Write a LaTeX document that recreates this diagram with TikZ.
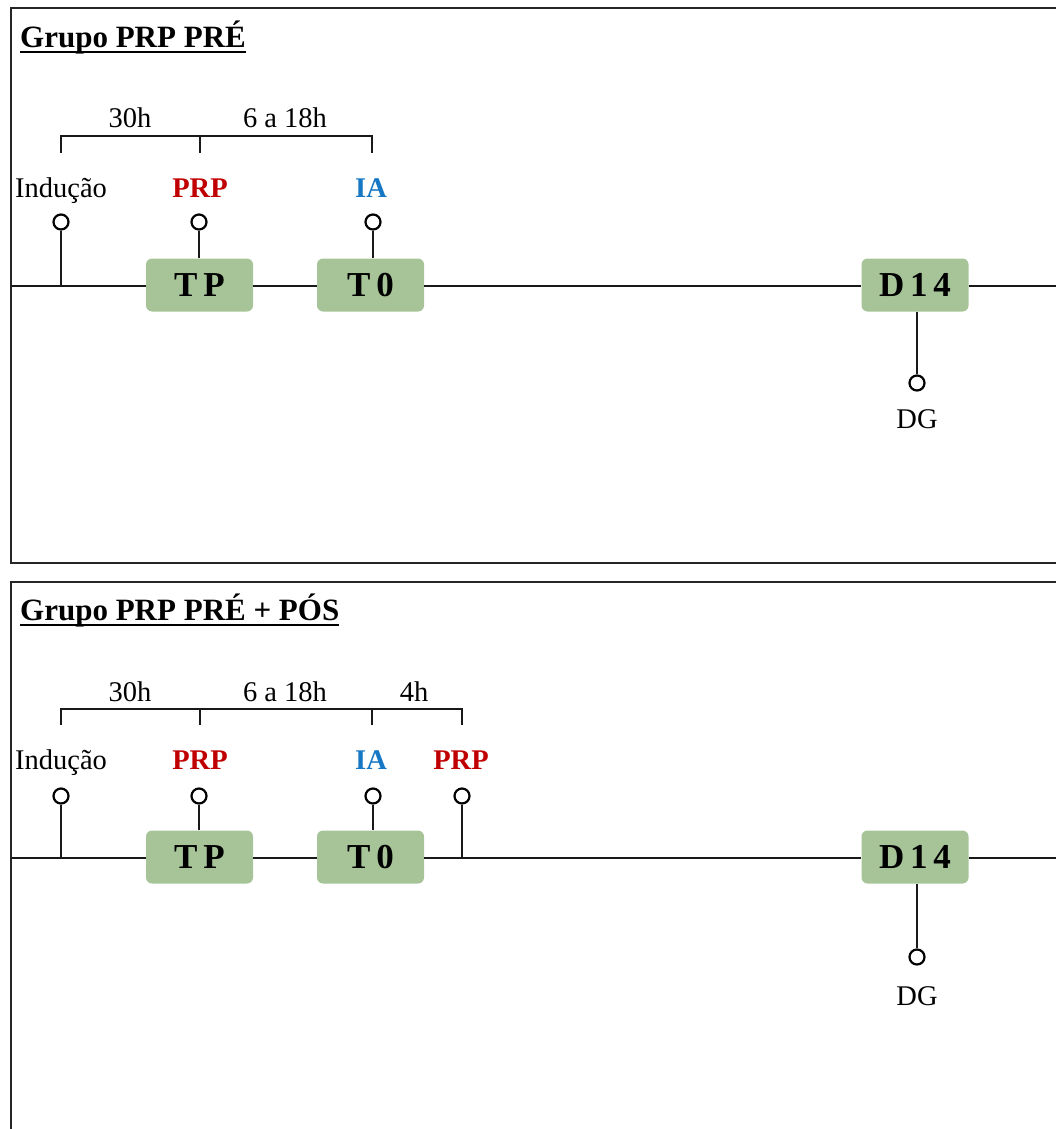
\documentclass[tikz,border=0pt]{standalone}
\usepackage{fontspec}
\setmainfont{Liberation Serif}
\definecolor{boxgreen}{HTML}{A6C498}
\definecolor{prpred}{HTML}{C00000}
\definecolor{iablue}{HTML}{1677C4}
\begin{document}
\begin{tikzpicture}[x=1pt,y=-1pt,
  line/.style={line width=2.2pt,black!90},
  frame/.style={line width=2.2pt,black!85},
  stagebox/.style={fill=boxgreen,rounded corners=6pt,minimum width=107pt,minimum height=53pt,inner sep=0pt,
    font=\fontsize{35}{38}\selectfont\bfseries},
  pin/.style={circle,draw,line width=2.2pt,minimum size=15pt,inner sep=0pt,fill=white},
  lbl/.style={anchor=base,inner sep=0pt,font=\fontsize{28.5}{32}\selectfont},
  redlbl/.style={lbl,text=prpred,font=\fontsize{28.5}{32}\selectfont\bfseries},
  bluelbl/.style={lbl,text=iablue,font=\fontsize{28.5}{32}\selectfont\bfseries},
  title/.style={anchor=base west,inner sep=0pt,font=\fontsize{31}{35}\selectfont\bfseries}]
\useasboundingbox (0,0) rectangle (1055,1129);

% ---------------- Panel 1 ----------------
\draw[frame] (1056,8) -- (11,8) -- (11,563) -- (1056,563);
\node[title] (ta) at (20,48) {Grupo PRP PRÉ};
\draw[line width=2pt] ([yshift=-4.5pt]ta.base west) -- ([yshift=-4.5pt]ta.base east);

\coordinate (La) at (11,286);
\coordinate (Ra) at (1056,286);
\node[stagebox] (TPa) at (199.5,285) {T\,P};
\node[stagebox] (T0a) at (370.5,285) {T\,0};
\node[stagebox] (D14a) at (915,285) {D\,1\,4};
\draw[line] (La) -- (La -| TPa.west);
\draw[line] (TPa.east |- La) -- (T0a.west |- La);
\draw[line] (T0a.east |- La) -- (D14a.west |- La);
\draw[line] (D14a.east |- La) -- (Ra);

\coordinate (bA1) at (61,153); \coordinate (bA2) at (200,153); \coordinate (bA3) at (372,153);
\draw[line] (bA1) -- (61,136) -- (372,136) -- (bA3);
\draw[line] (bA2) -- (200,136);
\node[lbl] (h30a) at (130,128) {30h};
\node[lbl] (h618a) at (285,128) {6 a 18h};

\node[lbl] (inda) at (61,197) {Indução};
\node[redlbl] (prpa) at (200,197) {PRP};
\node[bluelbl] (iaa) at (371,197) {IA};
\node[pin] (pInda) at (61,222) {};
\node[pin] (pPrpa) at (199,222) {};
\node[pin] (pIaa) at (373,222) {};
\coordinate (tInda) at (61,286);
\draw[line] (pInda.south) -- (tInda);
\draw[line] (pPrpa.south) -- (TPa.north -| pPrpa);
\draw[line] (pIaa.south) -- (T0a.north -| pIaa);
\node[pin] (pDGa) at (917,383) {};
\draw[line] (D14a.south -| pDGa) -- (pDGa.north);
\node[lbl] (dga) at (917,428) {DG};

% ---------------- Panel 2 ----------------
\draw[frame] (1056,582) -- (11,582) -- (11,1130);
\node[title] (tb) at (20,620) {Grupo PRP PRÉ + PÓS};
\draw[line width=2pt] ([yshift=-4.5pt]tb.base west) -- ([yshift=-4.5pt]tb.base east);

\coordinate (Lb) at (11,858);
\coordinate (Rb) at (1056,858);
\node[stagebox] (TPb) at (199.5,857) {T\,P};
\node[stagebox] (T0b) at (370.5,857) {T\,0};
\node[stagebox] (D14b) at (915,857) {D\,1\,4};
\draw[line] (Lb) -- (Lb -| TPb.west);
\draw[line] (TPb.east |- Lb) -- (T0b.west |- Lb);
\draw[line] (T0b.east |- Lb) -- (D14b.west |- Lb);
\draw[line] (D14b.east |- Lb) -- (Rb);

\coordinate (bB1) at (61,725); \coordinate (bB2) at (200,725); \coordinate (bB3) at (372,725); \coordinate (bB4) at (462,725);
\draw[line] (bB1) -- (61,709) -- (462,709) -- (bB4);
\draw[line] (bB2) -- (200,709);
\draw[line] (bB3) -- (372,709);
\node[lbl] (h30b) at (130,701) {30h};
\node[lbl] (h618b) at (285,701) {6 a 18h};
\node[lbl] (h4b) at (414,701) {4h};

\node[lbl] (indb) at (61,769) {Indução};
\node[redlbl] (prpb) at (200,769) {PRP};
\node[bluelbl] (iab) at (371,769) {IA};
\node[redlbl] (prpb2) at (461,769) {PRP};
\node[pin] (pIndb) at (61,796) {};
\node[pin] (pPrpb) at (199,796) {};
\node[pin] (pIab) at (373,796) {};
\node[pin] (pPrpb2) at (462,796) {};
\coordinate (tIndb) at (61,858);
\coordinate (tPrpb2) at (462,858);
\draw[line] (pIndb.south) -- (tIndb);
\draw[line] (pPrpb.south) -- (TPb.north -| pPrpb);
\draw[line] (pIab.south) -- (T0b.north -| pIab);
\draw[line] (pPrpb2.south) -- (tPrpb2);
\node[pin] (pDGb) at (917,957) {};
\draw[line] (D14b.south -| pDGb) -- (pDGb.north);
\node[lbl] (dgb) at (917,1005) {DG};
\end{tikzpicture}
\end{document}
